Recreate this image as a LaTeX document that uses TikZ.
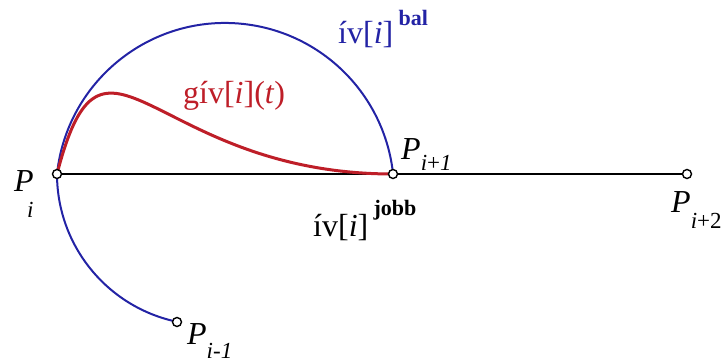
\documentclass[tikz,border=0pt]{standalone}
\usepackage{fontspec}
\setmainfont{Liberation Serif}
\definecolor{arcblue}{RGB}{35,35,165}
\definecolor{curvered}{RGB}{190,30,40}
\newcommand{\mainsize}{\fontsize{32}{36}\selectfont}
\newcommand{\subsize}{\fontsize{23}{26}\selectfont}
\newcommand{\supsize}{\fontsize{22}{24}\selectfont\bfseries}
\begin{document}
\begin{tikzpicture}[x=1pt,y=-1pt,
  pnt/.style={circle,draw=black,fill=white,line width=1.4pt,inner sep=0pt,minimum size=9pt},
  lbl/.style={inner sep=0pt,anchor=base west,font=\mainsize},
  bluearc/.style={draw=arcblue,line width=2pt},
  redcurve/.style={draw=curvered,line width=3pt},
  baseline/.style={draw=black,line width=1.8pt}]
\useasboundingbox (0,0) rectangle (723,364);
\coordinate (Pi) at (57,174);
\coordinate (Pi1) at (393,174);
\coordinate (Pi2) at (687,174);
\coordinate (Pim) at (177,322);
% blue arcs
\draw[bluearc] (Pi) arc[start angle=186.1, end angle=353.9, radius=169];
\draw[bluearc] (Pi) arc[start angle=180, end angle=101.8, radius=151];
% black segment
\draw[baseline] (Pi) -- (Pi2);
% red curve
\draw[redcurve] (Pi) .. controls (104,-8) and (150,174) .. (Pi1);
% points
\node[pnt] (nPi) at (Pi) {};
\node[pnt] (nPi1) at (Pi1) {};
\node[pnt] (nPi2) at (Pi2) {};
\node[pnt] (nPim) at (Pim) {};
% labels
\node[lbl] (lPi) at (14,191) {\textit{P}};
\node[lbl] (lPisub) at (27,217) {\subsize\textit{i}};
\node[lbl] (lPi1) at (401,159) {\textit{P}\raisebox{-11pt}{\subsize\textit{i}+\textit{1}}};
\node[lbl] (lPi2) at (671,212) {\textit{P}\raisebox{-16pt}{\subsize\textit{i}+2}};
\node[lbl] (lPim) at (187,344) {\textit{P}\raisebox{-14pt}{\subsize\textit{i-1}}};
\node[lbl,text=curvered] (lgiv) at (183,103) {gív[\textit{i}](\textit{t})};
\node[lbl,text=arcblue] (lbal) at (338,43) {ív[\textit{i}]\,\raisebox{18pt}{\supsize bal}};
\node[lbl] (ljobb) at (313,236) {ív[\textit{i}]\,\raisebox{21pt}{\supsize jobb}};
\end{tikzpicture}
\end{document}
